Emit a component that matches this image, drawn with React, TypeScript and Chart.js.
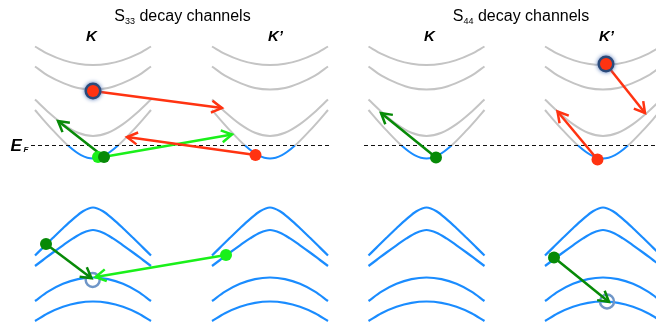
import React, { useEffect, useRef } from "react";
import { Chart, registerables } from "chart.js";

Chart.register(...registerables);

// ---- data -----------------------------------------------------------
// x position of each valley minimum: K, K' (S33 panel), K, K' (S44 panel)
const valleyCentres = [93, 270, 426.5, 603];

// conduction sub-bands (upper row): offsets from valley centre, energies (px)
const cOffsetsA = [-58, -45, -29, -15, 0, 15, 29, 45, 58];
const cBand1 = [46.5, 53.9, 60.4, 63.8, 65, 63.8, 60.4, 53.9, 46.5];
const cBand2 = [66.5, 75.7, 83.4, 88, 89.5, 88, 83.4, 75.7, 66.5];
const cOffsetsB = [-58, -44, -30, -15, 0, 15, 30, 44, 58];
const cBand3 = [99.5, 112.7, 124.1, 132.8, 136, 132.8, 124.1, 112.7, 99.5];
const cOffsetsC = [-58, -50, -40, -25, -12, 0, 12, 25, 40, 50, 58];
const cBand4 = [110, 119.3, 130.4, 145.5, 155.1, 158.5, 155.1, 145.5, 130.4, 119.3, 110];

// valence sub-bands (lower row)
const vOffsetsA = [-58, -50, -40, -30, -20, -10, 0, 10, 20, 30, 40, 50, 58];
const vBand1 = [255.5, 247.6, 237.8, 228.2, 219.1, 211.2, 207.5, 211.2, 219.1, 228.2, 237.8, 247.6, 255.5];
const vBand2 = [266, 260, 252.5, 245.3, 238.4, 232.7, 230, 232.7, 238.4, 245.3, 252.5, 260, 266];
const vOffsetsB = [-58, -45, -30, -15, 0, 15, 30, 45, 58];
const vBand3 = [301, 291.6, 283.8, 279.1, 277.5, 279.1, 283.8, 291.6, 301];
const vBand4 = [321, 313.2, 306.7, 302.8, 301.5, 302.8, 306.7, 313.2, 321];

// Fermi level
const fermiLevel = 145.5;
const fermiStartX = [31, 364];
const fermiEndX = [330, 656];

// carriers
const excitedX = [93, 606];
const excitedY = [91, 64];
const darkGreenX = [104, 436, 46, 554];
const darkGreenY = [157, 157.5, 244, 257.5];
const lightGreenX = [98, 226];
const lightGreenY = [157, 255];
const redX = [255.5, 597.5];
const redY = [155, 159.5];
const holeX = [92.7, 607];
const holeY = [280, 301.5];

// transitions: [fromX, fromY, toX, toY]
const redArrows = [
  [93, 91, 222, 108],
  [255.5, 155, 127, 137],
  [606, 64, 645, 113],
  [597.5, 159.5, 557.5, 111.5],
];
const darkGreenArrows = [
  [104, 157, 58, 121],
  [436, 157.5, 381, 113],
  [46, 244, 91.5, 278.3],
  [554, 257.5, 609, 302],
];
const lightGreenArrows = [
  [103, 157, 232, 134.5],
  [226, 255, 95.5, 277],
];

// text
const titleSubscripts = ["33", "44"];
const titleCentres = [182.5, 521];
const valleyLabels = ["K", "K\u2019", "K", "K\u2019"];
const valleyLabelX = [86, 268, 424, 599];

// ---- styles ---------------------------------------------------------
const GRAY = "#c4c4c4";
const BLUE = "#1a8cff";
const RED = "#ff3311";
const DGREEN = "#078a07";
const LGREEN = "#1af01a";
const HALO = "#2b4a7a";
const HOLE = "#6f96c8";
const FONT = '"Liberation Sans", Arial, Helvetica, sans-serif';

function curveDatasets(offsets: number[], ys: number[], color: string, width: number, splitAtFermi: boolean) {
  return valleyCentres.map((c) => ({
    data: offsets.map((dx, i) => ({ x: c + dx, y: ys[i] })),
    showLine: true,
    borderColor: color,
    borderWidth: width,
    pointRadius: 0,
    cubicInterpolationMode: "monotone" as const,
    order: 5,
    segment: splitAtFermi
      ? {
          borderColor: (ctx: any) =>
            ctx.p0.parsed.y >= fermiLevel - 0.01 && ctx.p1.parsed.y >= fermiLevel - 0.01 ? BLUE : undefined,
        }
      : undefined,
  }));
}

function arrowDatasets(list: number[][], color: string) {
  return list.map((a) => ({
    data: [
      { x: a[0], y: a[1] },
      { x: a[2], y: a[3] },
    ],
    showLine: true,
    borderColor: color,
    borderWidth: 2.5,
    pointRadius: 0,
    arrowHead: true,
    order: 2,
  }));
}

function dotDataset(xs: number[], ys: number[], color: string, radius: number, order: number, extra: any = {}) {
  return {
    data: xs.map((x, i) => ({ x, y: ys[i] })),
    showLine: false,
    pointRadius: radius,
    pointBackgroundColor: color,
    pointBorderWidth: 0,
    pointBorderColor: color,
    order,
    ...extra,
  };
}

const arrowPlugin = {
  id: "arrowHeads",
  beforeDatasetDraw(chart: any, args: any) {
    const ds = chart.data.datasets[args.index];
    if (ds.halo) {
      const ctx = chart.ctx;
      ctx.save();
      ctx.shadowColor = "rgba(70,110,180,0.95)";
      ctx.shadowBlur = 4;
    }
  },
  afterDatasetDraw(chart: any, args: any) {
    const ds = chart.data.datasets[args.index];
    const ctx = chart.ctx;
    if (ds.halo) {
      ctx.restore();
      return;
    }
    if (!ds.arrowHead) return;
    const pts = args.meta.data;
    const a = pts[pts.length - 2];
    const b = pts[pts.length - 1];
    const ang = Math.atan2(b.y - a.y, b.x - a.x);
    const len = 12;
    const spread = Math.PI / 6;
    ctx.save();
    ctx.strokeStyle = ds.borderColor;
    ctx.lineWidth = ds.borderWidth;
    ctx.lineJoin = "miter";
    ctx.lineCap = "butt";
    ctx.beginPath();
    ctx.moveTo(b.x - len * Math.cos(ang - spread), b.y - len * Math.sin(ang - spread));
    ctx.lineTo(b.x, b.y);
    ctx.lineTo(b.x - len * Math.cos(ang + spread), b.y - len * Math.sin(ang + spread));
    ctx.stroke();
    ctx.restore();
  },
};

const textPlugin = {
  id: "labels",
  afterDraw(chart: any) {
    const ctx = chart.ctx as CanvasRenderingContext2D;
    ctx.save();
    ctx.fillStyle = "#000";
    ctx.textBaseline = "alphabetic";
    ctx.textAlign = "left";
    // panel titles
    titleSubscripts.forEach((sub, i) => {
      ctx.font = `16px ${FONT}`;
      const wS = ctx.measureText("S").width;
      const rest = " decay channels";
      const wR = ctx.measureText(rest).width;
      ctx.font = `9px ${FONT}`;
      const wSub = ctx.measureText(sub).width;
      const total = wS + wSub + wR;
      let x = titleCentres[i] - total / 2;
      ctx.font = `16px ${FONT}`;
      ctx.fillText("S", x, 21);
      x += wS;
      ctx.font = `9px ${FONT}`;
      ctx.fillText(sub, x, 24);
      x += wSub;
      ctx.font = `16px ${FONT}`;
      ctx.fillText(rest, x, 21);
    });
    // valley labels
    ctx.font = `italic bold 15px ${FONT}`;
    valleyLabels.forEach((t, i) => ctx.fillText(t, valleyLabelX[i], 40.5));
    // Fermi level label
    ctx.font = `italic bold 17px ${FONT}`;
    ctx.fillText("E", 10.5, 150.5);
    ctx.font = `italic bold 8px ${FONT}`;
    ctx.fillText("F", 23.5, 152);
    ctx.restore();
  },
};

export default function App() {
  const ref = useRef<HTMLCanvasElement>(null);
  useEffect(() => {
    const datasets: any[] = [
      // carriers on top
      dotDataset(darkGreenX, darkGreenY, DGREEN, 6, 0),
      dotDataset(lightGreenX, lightGreenY, LGREEN, 6, 0),
      dotDataset(redX, redY, RED, 6, 0),
      dotDataset(excitedX, excitedY, RED, 6, 0),
      dotDataset(excitedX, excitedY, HALO, 8.5, 1, { halo: true }),
      ...arrowDatasets(redArrows, RED),
      ...arrowDatasets(lightGreenArrows, LGREEN),
      ...arrowDatasets(darkGreenArrows, DGREEN),
      {
        data: holeX.map((x, i) => ({ x, y: holeY[i] })),
        showLine: false,
        pointRadius: 7,
        pointBackgroundColor: "rgba(0,0,0,0)",
        pointBorderColor: HOLE,
        pointBorderWidth: 2.5,
        order: 3,
      },
      ...fermiStartX.map((x0, i) => ({
        data: [
          { x: x0, y: fermiLevel },
          { x: fermiEndX[i], y: fermiLevel },
        ],
        showLine: true,
        borderColor: "#111",
        borderWidth: 1.2,
        borderDash: [4, 3],
        pointRadius: 0,
        order: 4,
      })),
      ...curveDatasets(cOffsetsA, cBand1, GRAY, 2, false),
      ...curveDatasets(cOffsetsA, cBand2, GRAY, 2, false),
      ...curveDatasets(cOffsetsB, cBand3, GRAY, 2, false),
      ...curveDatasets(cOffsetsC, cBand4, GRAY, 2, true),
      ...curveDatasets(vOffsetsA, vBand1, BLUE, 2.2, false),
      ...curveDatasets(vOffsetsA, vBand2, BLUE, 2.2, false),
      ...curveDatasets(vOffsetsB, vBand3, BLUE, 2.2, false),
      ...curveDatasets(vOffsetsB, vBand4, BLUE, 2.2, false),
    ];
    const chart = new Chart(ref.current!, {
      type: "scatter",
      data: { datasets },
      options: {
        animation: false,
        responsive: false,
        devicePixelRatio: 1,
        events: [],
        layout: { padding: 0, autoPadding: false },
        plugins: { legend: { display: false }, tooltip: { enabled: false }, title: { display: false } },
        scales: {
          x: { type: "linear", min: 0, max: 656, display: false },
          y: { type: "linear", min: 0, max: 325, reverse: true, display: false },
        },
      },
      plugins: [arrowPlugin, textPlugin],
    } as any);
    return () => chart.destroy();
  }, []);
  return (
    <div style={{ position: "fixed", left: 0, top: 0, width: 656, height: 325, background: "#fff" }}>
      <canvas ref={ref} width={656} height={325} style={{ display: "block", width: 656, height: 325 }} />
    </div>
  );
}
